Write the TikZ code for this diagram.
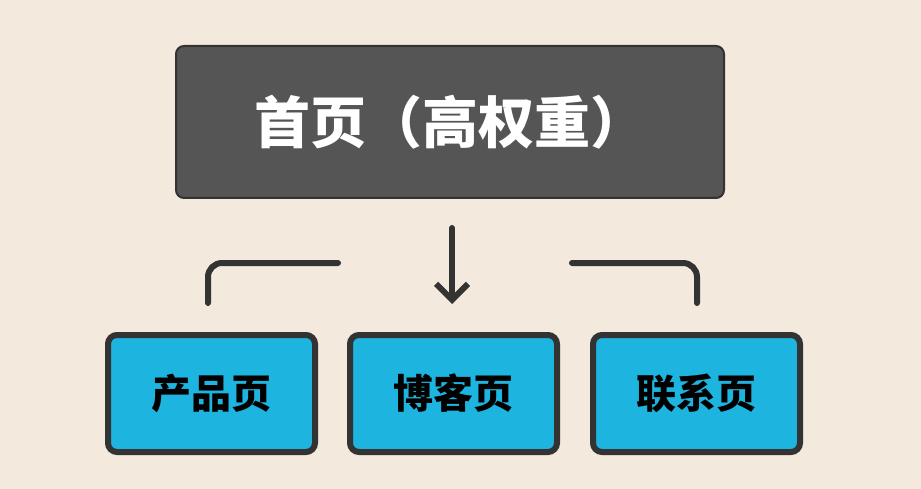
\documentclass[tikz,border=0pt]{standalone}
\usepackage{fontspec}
\newfontfamily\cjk{Noto Sans CJK SC}
\usetikzlibrary{arrows.meta}
\definecolor{bg}{HTML}{F3E9DC}
\definecolor{dk}{HTML}{555555}
\definecolor{ln}{HTML}{333333}
\definecolor{bl}{HTML}{1DB4E0}
\tikzset{
  top/.style={draw=ln,line width=2pt,fill=dk,rounded corners=8pt,minimum width=548pt,minimum height=152pt,text=white,font=\cjk\bfseries\fontsize{56}{60}\selectfont},
  pagebox/.style={draw=ln,line width=6pt,fill=bl,rounded corners=9pt,minimum width=207pt,minimum height=117pt,font=\cjk\bfseries\fontsize{40}{44}\selectfont},
  conn/.style={draw=ln,line width=6pt,rounded corners=14pt,line cap=round}
}
\begin{document}
\begin{tikzpicture}[x=1pt,y=-1pt]
\fill[bg] (0,0) rectangle (921,489);
\useasboundingbox (0,0) rectangle (921,489);
\node[top] (home) at (450,122) {首页（高权重）};
\node[pagebox] (prod) at (211.5,393.5) {产品页};
\node[pagebox] (blog) at (453.5,393.5) {博客页};
\node[pagebox] (cont) at (696.5,393.5) {联系页};
\coordinate (a1) at (452,228);
\coordinate (a2) at (452,304);
\draw[conn,-{Straight Barb[length=16pt,width=32pt]}] (a1) -- (a2);
\coordinate (l1) at (338,263);
\coordinate (l2) at (208,303);
\draw[conn] (l1) -| (l2);
\coordinate (r1) at (572,263);
\coordinate (r2) at (697,303);
\draw[conn] (r1) -| (r2);
\end{tikzpicture}
\end{document}
